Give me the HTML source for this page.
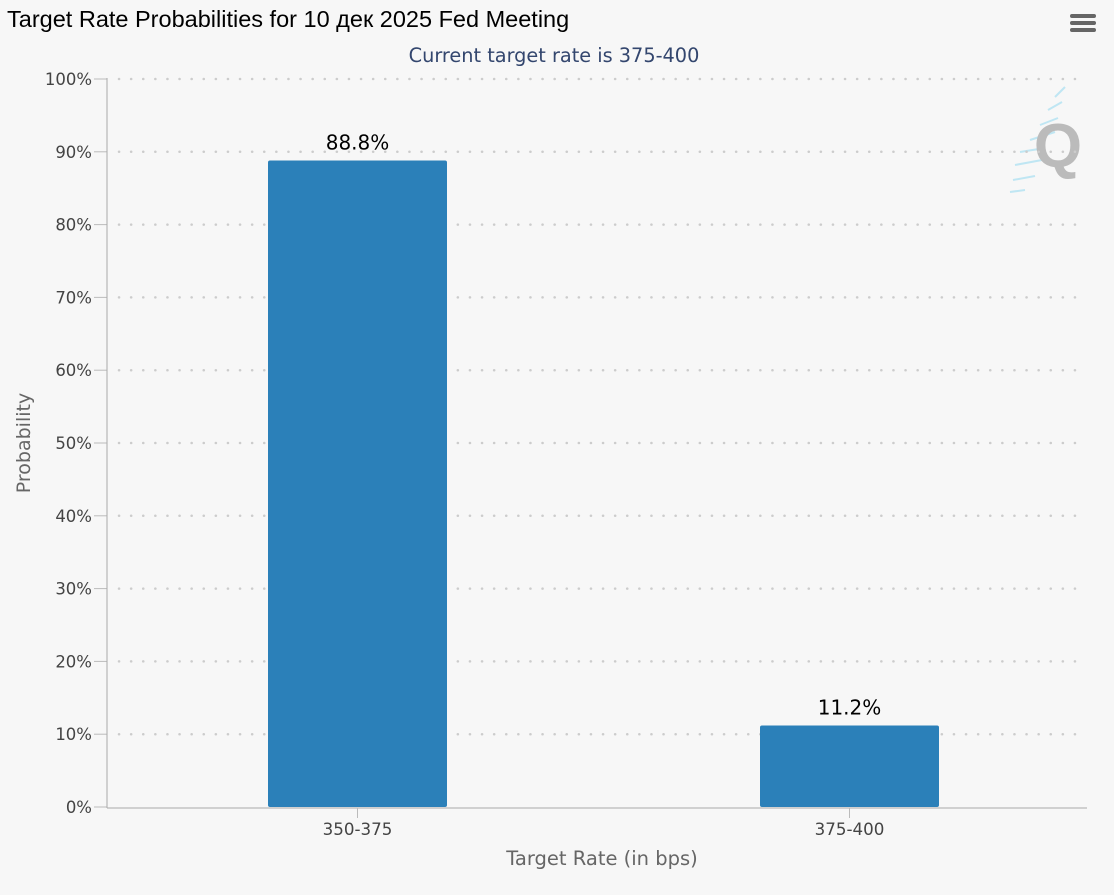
<!DOCTYPE html>
<html><head><meta charset="utf-8"><style>
body{margin:0;background:#f7f7f7;}
svg{display:block;font-family:"DejaVu Sans","Liberation Sans",sans-serif;}
</style></head><body>
<svg id="c" width="1114" height="895">
<rect width="1114" height="895" fill="#f7f7f7"/>
<text x="7" y="27" font-family="Liberation Sans, sans-serif" font-size="23.5" fill="#000">Target Rate Probabilities for 10 дек 2025 Fed Meeting</text>
<text x="554" y="62" text-anchor="middle" font-size="19.3" fill="#33466e">Current target rate is 375-400</text>
<g>
<rect x="1070" y="14" width="26" height="4" rx="2" fill="#666"/>
<rect x="1070" y="21" width="26" height="4" rx="2" fill="#666"/>
<rect x="1070" y="28" width="26" height="4" rx="2" fill="#666"/>
</g>
<g>
<g stroke="#bfe6f3" stroke-width="2">
<line x1="1055" y1="97" x2="1065" y2="87"/><line x1="1048" y1="110" x2="1062" y2="102"/>
<line x1="1040" y1="125" x2="1058" y2="118"/><line x1="1030" y1="140" x2="1055" y2="132"/>
<line x1="1020" y1="152" x2="1045" y2="148"/><line x1="1015" y1="165" x2="1042" y2="160"/>
<line x1="1013" y1="180" x2="1035" y2="176"/><line x1="1010" y1="192" x2="1025" y2="190"/>
</g>
<text x="1058" y="167" text-anchor="middle" font-family="Liberation Sans, sans-serif" font-size="62" font-weight="bold" fill="#bbb">Q</text>
</g>
<g id="grid"></g>
<line x1="107" y1="78" x2="107" y2="808" stroke="#aaa"/>
<line x1="107" y1="808" x2="1087" y2="808" stroke="#aaa"/>
<g id="bars"></g>
<text transform="translate(30,443) rotate(-90)" text-anchor="middle" font-size="19" fill="#666">Probability</text>
<text x="602" y="865" text-anchor="middle" font-size="19.5" fill="#666">Target Rate (in bps)</text>
</svg>
<script>
const categories=["350-375","375-400"];
const values=[88.8,11.2];
const labels=["88.8%","11.2%"];
const yTicks=[0,10,20,30,40,50,60,70,80,90,100];
const NS="http://www.w3.org/2000/svg";
const X0=107,X1=1087,Y0=807,Y1=79;
function y(v){return Y0-(v/100)*(Y0-Y1);}
function xc(i){const w=492;return X0+4.5+w*(i+0.5);}
function mk(t,a,p){const e=document.createElementNS(NS,t);for(const k in a)e.setAttribute(k,a[k]);p.appendChild(e);return e;}
const g=document.getElementById('grid'),b=document.getElementById('bars');
yTicks.forEach(t=>{
 const yy=y(t);
 if(t>0){const l=mk('line',{x1:X0+12,y1:yy,x2:X1,y2:yy,stroke:'#ccc','stroke-width':2.5,'stroke-dasharray':'0.1 12','stroke-linecap':'round'},g);
 
 }
 const tk=mk('line',{x1:94,y1:yy,x2:107,y2:yy,stroke:'#bbb'},g);
 
 
 const tx=mk('text',{x:92,y:yy+6,'text-anchor':'end','font-size':16.5,fill:'#444'},g);tx.textContent=t+'%';
 
 
});
categories.forEach((c,i)=>{
 const cx=xc(i),bw=179;
 const r=mk('rect',{x:cx-bw/2,y:y(values[i]),width:bw,height:Y0-y(values[i]),fill:'#2b80b9',rx:2},b);
 
 
 const vl=mk('text',{x:cx,y:y(values[i])-11,'text-anchor':'middle','font-size':20,fill:'#000'},b);vl.textContent=labels[i];
 
 
 const tk=mk('line',{x1:cx,y1:808,x2:cx,y2:818,stroke:'#bbb'},b);
 
 
 const xl=mk('text',{x:cx,y:835,'text-anchor':'middle','font-size':16.7,fill:'#444'},b);xl.textContent=c;
 
 
});
</script>
</body></html>
